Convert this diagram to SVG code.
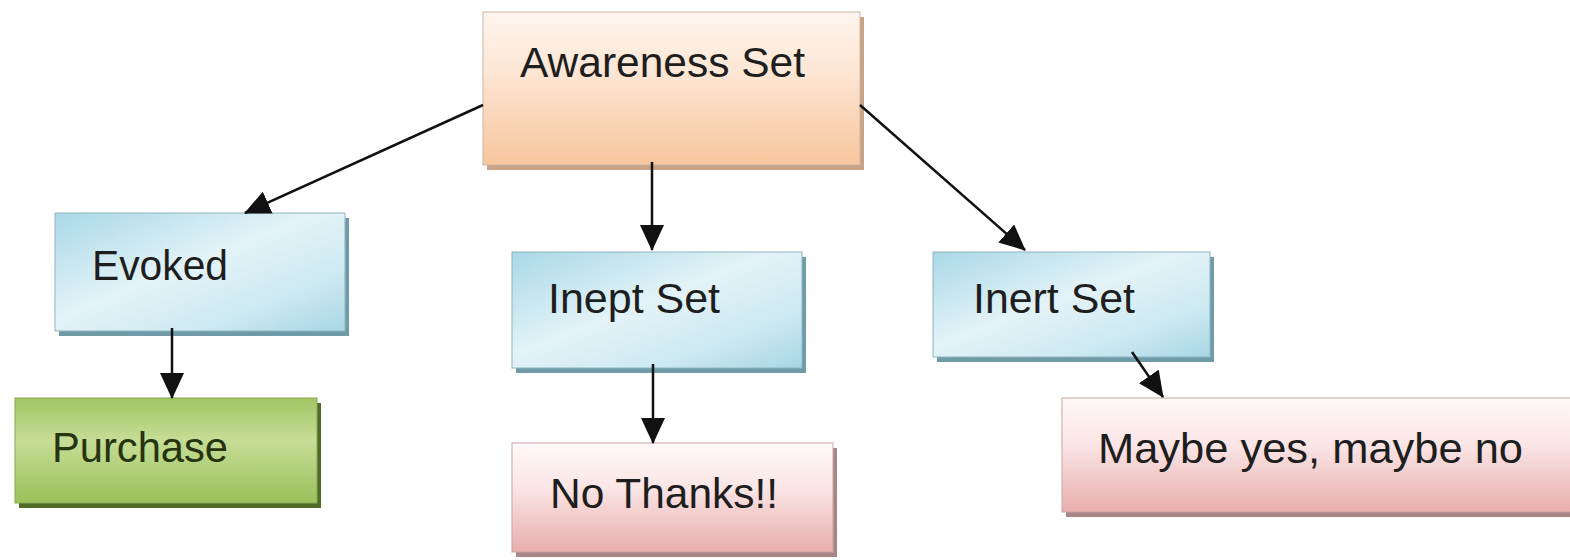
<svg xmlns="http://www.w3.org/2000/svg" width="1570" height="560" viewBox="0 0 1570 560">
<style>
.lbl{font-family:"Liberation Sans",Arial,sans-serif;font-size:42px;fill:#1e1e1e}
.conn{stroke:#111;stroke-width:2.5;fill:none;marker-end:url(#ah)}
</style>
<defs>
<marker id="ah" markerUnits="userSpaceOnUse" markerWidth="26" markerHeight="24" refX="25" refY="12" orient="auto">
<path d="M0,0 L26,12 L0,24 z" fill="#111"/>
</marker>
<linearGradient id="gPeach" x1="0" y1="0" x2="0" y2="1">
<stop offset="0" stop-color="#fef5ee"/><stop offset="0.4" stop-color="#fde6d4"/><stop offset="1" stop-color="#f7c59d"/>
</linearGradient>
<linearGradient id="gBlue" x1="0" y1="0" x2="1" y2="1">
<stop offset="0" stop-color="#a9d8e7"/><stop offset="0.45" stop-color="#e3f3f8"/><stop offset="0.75" stop-color="#cde9f1"/><stop offset="1" stop-color="#a7d6e5"/>
</linearGradient>
<linearGradient id="gGreen" x1="0" y1="0" x2="0" y2="1">
<stop offset="0" stop-color="#a2c563"/><stop offset="0.4" stop-color="#c6dd96"/><stop offset="1" stop-color="#9cc05a"/>
</linearGradient>
<linearGradient id="gPink" x1="0" y1="0" x2="0" y2="1">
<stop offset="0" stop-color="#fff8f8"/><stop offset="0.4" stop-color="#fbe6e6"/><stop offset="1" stop-color="#e8adad"/>
</linearGradient>
</defs>
<rect width="1570" height="560" fill="#ffffff"/>

<g id="awareness">
<rect x="487" y="17" width="377" height="153" fill="#c9a385"/>
<rect x="483" y="12" width="377" height="153" fill="url(#gPeach)" stroke="#c8b6a6" stroke-width="1"/>
<text class="lbl" x="520" y="77" textLength="285" lengthAdjust="spacingAndGlyphs">Awareness Set</text>
</g>

<g id="evoked">
<rect x="59" y="218" width="290" height="118" fill="#6f9aa8"/>
<rect x="55" y="213" width="290" height="118" fill="url(#gBlue)" stroke="#8fb4c0" stroke-width="1"/>
<text class="lbl" x="92" y="280" textLength="136" lengthAdjust="spacingAndGlyphs">Evoked</text>
</g>

<g id="purchase">
<rect x="19" y="403" width="302" height="105" fill="#4f6b28"/>
<rect x="15" y="398" width="302" height="105" fill="url(#gGreen)" stroke="#86a850" stroke-width="1"/>
<text class="lbl" x="52" y="462" textLength="176" lengthAdjust="spacingAndGlyphs" style="fill:#26340f">Purchase</text>
</g>

<g id="inept">
<rect x="516" y="257" width="290" height="116" fill="#6f9aa8"/>
<rect x="512" y="252" width="290" height="116" fill="url(#gBlue)" stroke="#8fb4c0" stroke-width="1"/>
<text class="lbl" x="548" y="313" textLength="172" lengthAdjust="spacingAndGlyphs">Inept Set</text>
</g>

<g id="nothanks">
<rect x="516" y="448" width="321" height="109" fill="#a98686"/>
<rect x="512" y="443" width="321" height="109" fill="url(#gPink)" stroke="#c9a5a5" stroke-width="1"/>
<text class="lbl" x="550" y="508" textLength="228" lengthAdjust="spacingAndGlyphs">No Thanks!!</text>
</g>

<g id="inert">
<rect x="937" y="257" width="277" height="105" fill="#6f9aa8"/>
<rect x="933" y="252" width="277" height="105" fill="url(#gBlue)" stroke="#8fb4c0" stroke-width="1"/>
<text class="lbl" x="973" y="313" textLength="162" lengthAdjust="spacingAndGlyphs">Inert Set</text>
</g>

<g id="maybe">
<rect x="1066" y="403" width="510" height="114" fill="#a98686"/>
<rect x="1062" y="398" width="510" height="114" fill="url(#gPink)" stroke="#c9a5a5" stroke-width="1"/>
<text class="lbl" x="1098" y="463" textLength="425" lengthAdjust="spacingAndGlyphs">Maybe yes, maybe no</text>
</g>

<g id="connectors">
<line class="conn" x1="483" y1="105" x2="245" y2="213"/>
<line class="conn" x1="652" y1="162" x2="652" y2="250"/>
<line class="conn" x1="860" y1="105" x2="1025" y2="250"/>
<line class="conn" x1="172" y1="328" x2="172" y2="398"/>
<line class="conn" x1="653" y1="364" x2="653" y2="443"/>
<line class="conn" x1="1132" y1="352" x2="1163" y2="397"/>
</g>
</svg>
